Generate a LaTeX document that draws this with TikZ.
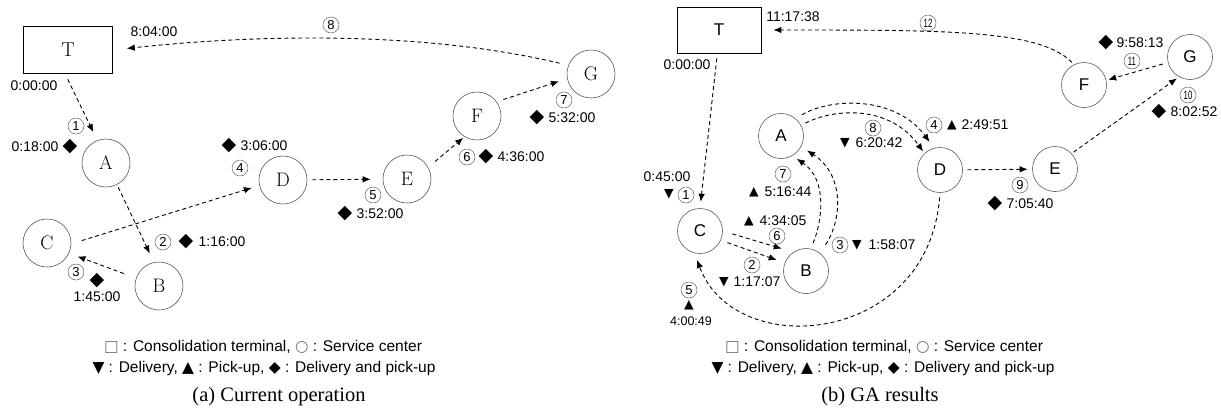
\documentclass[tikz,border=0pt]{standalone}
\usepackage{fontspec}
\usepackage{graphicx}
\newfontfamily\arialf{Liberation Sans}
\newfontfamily\serifcap{Liberation Serif}
\newfontfamily\symf{DejaVu Sans}
\usetikzlibrary{arrows.meta}
\begin{document}
\begin{tikzpicture}[x=1pt,y=-1pt,
 conn/.style={draw=black, line width=0.9pt, dash pattern=on 4pt off 3pt, -{Latex[length=8pt,width=6.5pt]}},
 lcirc/.style={circle, draw=black!65, line width=0.6pt, minimum size=48pt, inner sep=0pt, font=\fontsize{19.5}{19.5}\selectfont},
 rcirc/.style={circle, draw=black!65, line width=0.6pt, minimum size=45pt, inner sep=0pt, font=\arialf\fontsize{17}{17}\selectfont},
 lterm/.style={rectangle, draw=black, line width=0.8pt, minimum width=89pt, minimum height=47pt, inner sep=0pt, font=\fontsize{20}{20}\selectfont},
 rterm/.style={rectangle, draw=black, line width=0.8pt, minimum width=84pt, minimum height=46pt, inner sep=0pt, font=\arialf\fontsize{17}{17}\selectfont},
 num/.style={circle, draw=black!60, line width=0.5pt, minimum size=16pt, inner sep=0pt, font=\arialf\fontsize{13}{13}\selectfont},
 numw/.style={num, font=\arialf\fontsize{12}{12}\selectfont},
 tm/.style={inner sep=0pt, font=\arialf\fontsize{14}{14}\selectfont},
 tms/.style={inner sep=0pt, font=\arialf\fontsize{12.5}{12.5}\selectfont},
 dia/.style={inner sep=0pt, font=\symf\fontsize{19}{19}\selectfont},
 tri/.style={inner sep=0pt, font=\symf\fontsize{12.5}{12.5}\selectfont},
 leg/.style={inner sep=0pt, font=\arialf\fontsize{15.5}{15.5}\selectfont},
 captxt/.style={inner sep=0pt, font=\serifcap\fontsize{20.5}{20.5}\selectfont},
]
\useasboundingbox[fill=white] (0,0) rectangle (1221,410);

% ---------------- (a) current operation ----------------
\node[lterm] (lT) at (68,50) {T};
\node[lcirc] (lA) at (106,163) {A};
\node[lcirc] (lB) at (159,286) {B};
\node[lcirc] (lC) at (47,243) {C};
\node[lcirc] (lD) at (283,180) {D};
\node[lcirc] (lE) at (407,179) {E};
\node[lcirc] (lF) at (477,116) {F};
\node[lcirc] (lG) at (591,74) {G};

\draw[conn, shorten <=6pt, shorten >=9pt] (lT.263) -- (lA.111);
\draw[conn, shorten <=3pt, shorten >=9.7pt] (lA.297) -- (lB.102);
\draw[conn, shorten <=13pt, shorten >=9pt] (lB.161) -- (lC.335);
\draw[conn, shorten <=11pt, shorten >=7.8pt] (lC.358) -- (lD.193);
\draw[conn, shorten <=5pt, shorten >=12pt] (lD) -- (lE);
\draw[conn, shorten <=9pt, shorten >=1.6pt] (lE.29) -- (lF.239);
\draw[conn, shorten <=7pt, shorten >=8.6pt] (lF.36) -- (lG.191);
\draw[conn, shorten <=9pt, shorten >=14pt] (lG.159) .. controls (420,30) and (250,35) .. (lT.east);

\node[tm] (la0) at (34,86) {0:00:00};
\node[num] (ln1) at (76,126) {1};
\node[tm] (la1) at (35,147) {0:18:00};
\node[dia] (ld1) at (70,147) {◆};
\node[dia] (ld4) at (229,146) {◆};
\node[tm] (la4) at (264,146) {3:06:00};
\node[num] (ln4) at (240,168) {4};
\node[num] (ln2) at (163,242) {2};
\node[dia] (ld2) at (186,242) {◆};
\node[tm] (la2) at (222,242) {1:16:00};
\node[num] (ln3) at (76,272) {3};
\node[dia] (ld3) at (97,281) {◆};
\node[tm] (la3) at (97,297) {1:45:00};
\node[num] (ln5) at (373,195) {5};
\node[dia] (ld5) at (345,214) {◆};
\node[tm] (la5) at (380,214) {3:52:00};
\node[num] (ln6) at (467,157) {6};
\node[dia] (ld6) at (486,157) {◆};
\node[tm] (la6) at (521,157) {4:36:00};
\node[num] (ln7) at (564,100) {7};
\node[dia] (ld7) at (537,118) {◆};
\node[tm] (la7) at (572,118) {5:32:00};
\node[num] (ln8) at (331,25) {8};
\node[tm] (la8) at (154,32) {8:04:00};

\node[leg] (lleg1) at (263,347) {{\symf\color{black!55}□} : Consolidation terminal, {\symf\color{black!55}○} : Service center};
\node[leg] (lleg2) at (264,368) {{\symf ▼} : Delivery, {\symf ▲} : Pick-up, {\symf ◆} : Delivery and pick-up};
\node[captxt] (lcap) at (279,397) {(a) Current operation};

% ---------------- (b) GA results ----------------
\node[rterm] (rT) at (719,30) {T};
\node[rcirc] (rA) at (781,136) {A};
\node[rcirc] (rB) at (806,271) {B};
\node[rcirc] (rC) at (700,231) {C};
\node[rcirc] (rD) at (940,170) {D};
\node[rcirc] (rE) at (1055,169) {E};
\node[rcirc] (rF) at (1084,85) {F};
\node[rcirc] (rG) at (1190,57) {G};

\draw[conn, shorten <=5pt, shorten >=6.5pt] (rT.266) -- (rC.90);
\draw[conn, shorten <=7pt, shorten >=8.5pt] (rC.336) -- (rB.159);
\draw[conn, shorten <=10pt, shorten >=12pt] (rC.0) -- (rB.124);
\draw[conn, shorten <=10pt, shorten >=7pt] (rB.52) .. controls (842,220) and (845,175) .. (rA.332);
\draw[conn, shorten <=6pt, shorten >=5.3pt] (rB.78) .. controls (822,222) and (828,180) .. (rA.300);
\draw[conn, shorten <=7.3pt, shorten >=7.6pt] (rA.50) .. controls (830,98) and (895,95) .. (rD.105);
\draw[conn, shorten <=4.8pt, shorten >=2.3pt] (rA.28) .. controls (835,108) and (890,105) .. (rD.133);
\draw[conn, shorten <=4.5pt, shorten >=4.5pt] (rD) -- (rE);
\draw[conn, shorten <=4.5pt, shorten >=7.3pt] (rD.270) .. controls (928,345) and (735,362) .. (rC.256);
\draw[conn, shorten <=2.3pt, shorten >=2.5pt] (rE.43) -- (rG.241);
\draw[conn, shorten <=5.4pt, shorten >=2pt] (rG.194) -- (rF.12);
\draw[conn, shorten <=3pt, shorten >=12pt] (rF.116) .. controls (1040,30) and (950,30) .. (rT.east);

\node[tm] (rb12t) at (793,17) {11:17:38};
\node[tm] (rb0) at (687,65) {0:00:00};
\node[tm] (rb1) at (667,177) {0:45:00};
\node[tri] (rs1) at (669,194) {▼};
\node[num] (rn1) at (686,195) {1};
\node[num] (rn2) at (752,265) {2};
\node[tri] (rs2) at (724,282) {▼};
\node[tm] (rb2) at (757,282) {1:17:07};
\node[num] (rn6) at (777,236) {6};
\node[tri] (rs6) at (749,221) {▲};
\node[tm] (rb6) at (783,221) {4:34:05};
\node[num] (rn3) at (840,245) {3};
\node[tri] (rs3) at (857,245) {▼};
\node[tm] (rb3) at (892,245) {1:58:07};
\node[num] (rn7) at (783,174) {7};
\node[tri] (rs7) at (754,192) {▲};
\node[tm] (rb7) at (788,192) {5:16:44};
\node[num] (rn4) at (934,125) {4};
\node[tri] (rs4) at (952,125) {▲};
\node[tm] (rb4) at (985,125) {2:49:51};
\node[num] (rn8) at (873,128) {8};
\node[tri] (rs8) at (845,143) {▼};
\node[tm] (rb8) at (879,143) {6:20:42};
\node[num] (rn9) at (1020,185) {9};
\node[dia] (rd9) at (995,204) {◆};
\node[tm] (rb9) at (1030,204) {7:05:40};
\node[num] (rn5) at (689,290) {5};
\node[tri] (rs5) at (689,305) {▲};
\node[tms] (rb5) at (691,321) {4:00:49};
\node[numw] (rn10) at (1188,95) {\scalebox{0.65}[1]{10}};
\node[dia] (rd10) at (1159,112) {◆};
\node[tm] (rb10) at (1194,112) {8:02:52};
\node[numw] (rn11) at (1132,61) {\scalebox{0.65}[1]{11}};
\node[dia] (rd11) at (1106,43) {◆};
\node[tm] (rb11) at (1140,43) {9:58:13};
\node[numw] (rn12) at (928,23) {\scalebox{0.65}[1]{12}};

\node[leg] (rleg1) at (884,347) {{\symf\color{black!55}□} : Consolidation terminal, {\symf\color{black!55}○} : Service center};
\node[leg] (rleg2) at (883,368) {{\symf ▼} : Delivery, {\symf ▲} : Pick-up, {\symf ◆} : Delivery and pick-up};
\node[captxt] (rcap) at (880,397) {(b) GA results};
\end{tikzpicture}
\end{document}
